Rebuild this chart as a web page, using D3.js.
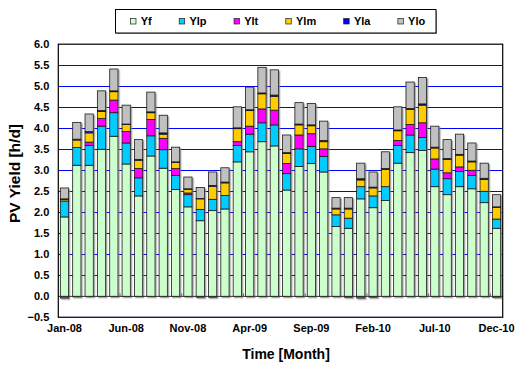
<!DOCTYPE html>
<html>
<head>
<meta charset="utf-8">
<script src="https://cdn.jsdelivr.net/npm/d3@7"></script>
<style>
  html, body { margin: 0; padding: 0; background: #fff; }
  svg { display: block; font-family: "Liberation Sans", Arial, sans-serif; }
</style>
</head>
<body>
<svg id="chart" width="516" height="367"></svg>
<script>
// Monthly PV yield breakdown, Jan 2008 – Dec 2010 (h/d)
const months = [
  "Jan-08","Feb-08","Mar-08","Apr-08","May-08","Jun-08","Jul-08","Aug-08","Sep-08","Oct-08","Nov-08","Dec-08",
  "Jan-09","Feb-09","Mar-09","Apr-09","May-09","Jun-09","Jul-09","Aug-09","Sep-09","Oct-09","Nov-09","Dec-09",
  "Jan-10","Feb-10","Mar-10","Apr-10","May-10","Jun-10","Jul-10","Aug-10","Sep-10","Oct-10","Nov-10","Dec-10"
];
const xLabels = ["Jan-08","Jun-08","Nov-08","Apr-09","Sep-09","Feb-10","Jul-10","Dec-10"];
const yTicks = [-0.5,0,0.5,1,1.5,2,2.5,3,3.5,4,4.5,5,5.5,6];

const seriesNames = ["Yf","Ylp","Ylt","Ylm","Yla","Ylo"];
const seriesColors = ["#CCFFCC","#00CCFF","#FF00FF","#FFCC00","#0000FF","#C0C0C0"];

const Yf  = [1.89,3.12,3.12,3.50,3.81,3.15,2.39,3.34,3.05,2.54,2.13,1.80,
             2.04,2.08,3.20,3.44,3.68,3.58,2.53,3.09,3.16,2.96,1.66,1.62,
             2.32,2.11,2.28,3.17,3.42,3.47,2.61,2.42,2.61,2.56,2.23,1.62];
const Ylp = [0.38,0.42,0.47,0.55,0.56,0.50,0.43,0.48,0.44,0.34,0.29,0.27,
             0.27,0.32,0.39,0.42,0.45,0.50,0.39,0.42,0.41,0.37,0.28,0.24,
             0.29,0.28,0.33,0.42,0.42,0.31,0.42,0.38,0.36,0.32,0.27,0.22];
const Ylt = [-0.04,-0.01,0.08,0.18,0.30,0.27,0.22,0.39,0.27,0.16,0.04,-0.02,
             -0.02,0.00,0.09,0.19,0.33,0.35,0.24,0.33,0.30,0.18,0.00,-0.02,
             -0.04,-0.02,0.00,0.12,0.25,0.35,0.24,0.14,0.11,0.12,0.00,-0.02];
const Ylm = [0.04,0.18,0.22,0.17,0.20,0.17,0.20,0.16,0.10,0.15,0.09,0.25,
             0.31,0.30,0.31,0.37,0.36,0.33,0.24,0.24,0.19,0.17,0.14,0.22,
             0.16,0.19,0.41,0.23,0.36,0.42,0.26,0.32,0.28,0.20,0.28,0.28];
const Yla = [0.01,0.02,0.03,0.02,0.02,0.01,0.02,0.02,0.03,0.01,0.01,0.01,
             0.02,0.02,0.02,0.02,0.02,0.03,0.02,0.02,0.02,0.03,0.02,0.02,
             0.03,0.02,0.02,0.02,0.02,0.03,0.02,0.02,0.02,0.02,0.03,0.01];
const Ylo = [0.26,0.40,0.42,0.47,0.52,0.45,0.47,0.47,0.42,0.35,0.28,0.26,
             0.32,0.34,0.50,0.54,0.61,0.60,0.42,0.51,0.51,0.46,0.25,0.25,
             0.37,0.36,0.40,0.55,0.63,0.63,0.50,0.45,0.48,0.43,0.36,0.29];

const seriesValues = [Yf, Ylp, Ylt, Ylm, Yla, Ylo];
const rows = months.map((m, i) => {
  const r = { month: m };
  seriesNames.forEach((k, j) => r[k] = seriesValues[j][i]);
  return r;
});

const svg = d3.select("#chart");
const plot = { left: 58.3, right: 502.7, top: 44.2, bottom: 317.4 };

const x = d3.scaleBand().domain(months)
  .range([plot.left, plot.right]).paddingInner(0.33).paddingOuter(0.165);
const y = d3.scaleLinear().domain([-0.5, 6]).range([plot.bottom, plot.top]);
const color = d3.scaleOrdinal().domain(seriesNames).range(seriesColors);

const defs = svg.append("defs");
defs.append("filter").attr("id", "shadow")
  .attr("x", "-20%").attr("y", "-5%").attr("width", "160%").attr("height", "110%")
  .append("feDropShadow")
  .attr("dx", 1.3).attr("dy", 1.3).attr("stdDeviation", 0.7)
  .attr("flood-color", "#808080").attr("flood-opacity", 0.75);

// plot frame background
svg.append("rect")
  .attr("x", plot.left).attr("y", plot.top)
  .attr("width", plot.right - plot.left).attr("height", plot.bottom - plot.top)
  .attr("fill", "#fff");

// horizontal gridlines
svg.append("g").selectAll("line")
  .data(yTicks.filter(v => v > 0 && v < 6))
  .join("line")
  .attr("x1", plot.left).attr("x2", plot.right)
  .attr("y1", d => Math.round(y(d)) + 0.5).attr("y2", d => Math.round(y(d)) + 0.5)
  .attr("stroke", "#0000FF").attr("stroke-width", 1);

// stacked bars
const stack = d3.stack().keys(seriesNames).offset(d3.stackOffsetDiverging);
const layers = stack(rows);

const barsG = svg.append("g").attr("filter", "url(#shadow)");
barsG.selectAll("g")
  .data(layers)
  .join("g")
  .attr("fill", d => color(d.key))
  .selectAll("rect")
  .data(d => d.filter(s => s[1] !== s[0]))
  .join("rect")
  .attr("x", d => x(d.data.month))
  .attr("width", x.bandwidth())
  .attr("y", d => y(Math.max(d[0], d[1])))
  .attr("height", d => Math.abs(y(d[0]) - y(d[1])))
  .attr("stroke", "#1a1a1a").attr("stroke-width", 0.8);

// zero line
svg.append("line")
  .attr("x1", plot.left).attr("x2", plot.right)
  .attr("y1", y(0)).attr("y2", y(0))
  .attr("stroke", "#333").attr("stroke-width", 1);

// small category ticks on the zero line
svg.append("g").selectAll("line")
  .data(xLabels.slice(1))
  .join("line")
  .attr("x1", d => x(d) - x.step() * x.paddingInner() / 2)
  .attr("x2", d => x(d) - x.step() * x.paddingInner() / 2)
  .attr("y1", y(0)).attr("y2", y(0) - 3)
  .attr("stroke", "#666").attr("stroke-width", 1);

// plot frame
svg.append("rect")
  .attr("x", plot.left).attr("y", plot.top)
  .attr("width", plot.right - plot.left).attr("height", plot.bottom - plot.top)
  .attr("fill", "none").attr("stroke", "#000").attr("stroke-width", 1.2);
svg.append("line")
  .attr("x1", plot.left).attr("x2", plot.right)
  .attr("y1", plot.bottom).attr("y2", plot.bottom)
  .attr("stroke", "#1a1a70").attr("stroke-width", 1.4);

// y axis labels
const yAxis = svg.append("g")
  .attr("transform", `translate(${plot.left},0)`)
  .call(d3.axisLeft(y).tickValues(yTicks).tickFormat(d3.format(".1f")).tickSize(0).tickPadding(9));
yAxis.select(".domain").remove();
yAxis.selectAll("text")
  .attr("font-family", "Liberation Sans, Arial, sans-serif")
  .attr("font-size", 11).attr("font-weight", "bold").attr("fill", "#000");

// x axis labels
const xAxis = svg.append("g")
  .attr("transform", `translate(0,${plot.bottom})`)
  .call(d3.axisBottom(x).tickValues(xLabels).tickSize(0).tickPadding(7));
xAxis.select(".domain").remove();
xAxis.selectAll("text")
  .attr("font-family", "Liberation Sans, Arial, sans-serif")
  .attr("font-size", 11).attr("font-weight", "bold").attr("fill", "#000");

// axis titles
svg.append("text")
  .attr("x", 286).attr("y", 358.5)
  .attr("text-anchor", "middle")
  .attr("font-size", 14).attr("font-weight", "bold")
  .text("Time [Month]");
svg.append("text")
  .attr("transform", "translate(20,173.5) rotate(-90)")
  .attr("text-anchor", "middle")
  .attr("font-size", 15.5).attr("font-weight", "bold")
  .text("PV Yield [h/d]");

// legend
const legend = svg.append("g");
legend.append("rect")
  .attr("x", 116.5).attr("y", 10.5).attr("width", 320.5).attr("height", 23.5)
  .attr("fill", "#999");
legend.append("rect")
  .attr("x", 115.5).attr("y", 9.5).attr("width", 320.5).attr("height", 23.5)
  .attr("fill", "#fff").attr("stroke", "#000").attr("stroke-width", 1);
let lx = 130;
seriesNames.forEach(k => {
  const item = legend.append("g");
  item.append("rect")
    .attr("x", lx + 0.5).attr("y", 18.5).attr("width", 5.5).attr("height", 5.5)
    .attr("fill", color(k)).attr("stroke", "#222").attr("stroke-width", 0.7);
  const t = item.append("text")
    .attr("x", lx + 10.7).attr("y", 24.8)
    .attr("font-size", 11).attr("font-weight", "bold")
    .text(k);
  lx += 10.7 + t.node().getComputedTextLength() + 27;
});
</script>
</body>
</html>
